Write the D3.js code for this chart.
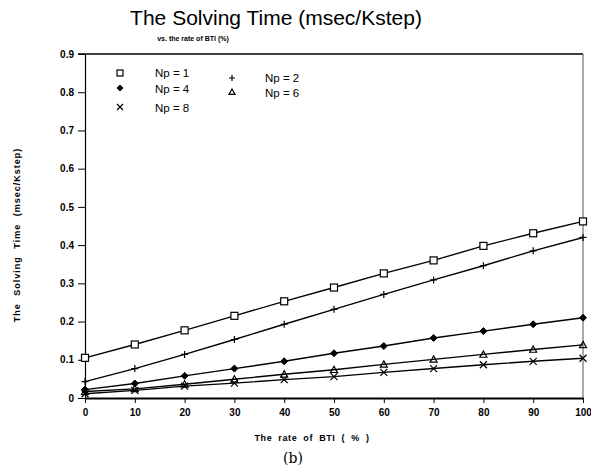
<!DOCTYPE html>
<html>
<head>
<meta charset="utf-8">
<script src="https://cdn.jsdelivr.net/npm/d3@7"></script>
<style>
  body { margin: 0; background: #fff; }
  svg text { font-family: "Liberation Sans", Arial, sans-serif; fill: #000; }
  .tick text { font-weight: bold; font-size: 10px; }
</style>
</head>
<body>
<svg id="chart" width="591" height="472"></svg>
<script>
// rate of BTI (%)
var rates = [0, 10, 20, 30, 40, 50, 60, 70, 80, 90, 100];
var np1 = [0.105, 0.140, 0.177, 0.215, 0.253, 0.289, 0.326, 0.360, 0.398, 0.431, 0.462];
var np2 = [0.043, 0.077, 0.114, 0.153, 0.193, 0.232, 0.271, 0.309, 0.346, 0.385, 0.420];
var np4 = [0.022, 0.038, 0.058, 0.077, 0.096, 0.117, 0.136, 0.157, 0.175, 0.193, 0.210];
var np6 = [0.017, 0.024, 0.036, 0.049, 0.062, 0.074, 0.088, 0.101, 0.114, 0.127, 0.139];
var np8 = [0.011, 0.020, 0.031, 0.039, 0.048, 0.056, 0.067, 0.077, 0.087, 0.096, 0.104];
var yTicks = [0, 0.1, 0.2, 0.3, 0.4, 0.5, 0.6, 0.7, 0.8, 0.9];

var series = [
  {name: "Np = 1", sym: "square", vals: np1},
  {name: "Np = 2", sym: "plus", vals: np2},
  {name: "Np = 4", sym: "diamond", vals: np4},
  {name: "Np = 6", sym: "triangle", vals: np6},
  {name: "Np = 8", sym: "cross", vals: np8}
];

var margin = {top: 54, right: 8, bottom: 74, left: 85},
    width = 583 - margin.left,
    height = 398 - margin.top;

var svg = d3.select("#chart");
var g = svg.append("g")
    .attr("transform", "translate(" + margin.left + "," + margin.top + ")");

var x = d3.scaleLinear().domain([0, 100]).range([0, width]);
var y = d3.scaleLinear().domain([0, 0.9]).range([height, 0]);

// frame
g.append("line").attr("x1", -7).attr("x2", width).attr("y1", 0).attr("y2", 0)
    .attr("stroke", "#000").attr("stroke-width", 1.5);
g.append("line").attr("x1", width).attr("x2", width).attr("y1", 0).attr("y2", height)
    .attr("stroke", "#555").attr("stroke-width", 1);

var yAxis = d3.axisLeft(y).tickValues(yTicks)
    .tickFormat(function(d) { return d === 0 ? "0" : d3.format(".1f")(d); })
    .tickSize(7).tickPadding(4);
var yg = g.append("g").call(yAxis);
yg.select(".domain").attr("stroke-width", 1.2);

var xAxis = d3.axisBottom(x).tickValues(rates).tickSize(5).tickPadding(6).tickSizeOuter(0);
var xg = g.append("g").attr("transform", "translate(0," + height + ")").call(xAxis);
xg.select(".domain").attr("stroke-width", 1.8);

var line = d3.line()
    .x(function(d, i) { return x(rates[i]); })
    .y(function(d) { return y(d); });

function drawSym(sel, sym, s) {
  if (sym === "square") {
    sel.append("rect").attr("x", -s).attr("y", -s).attr("width", 2 * s).attr("height", 2 * s)
      .attr("fill", "#fff").attr("stroke", "#000").attr("stroke-width", 1.2);
  } else if (sym === "plus") {
    sel.append("path").attr("d", "M" + (-s) + ",0H" + s + "M0," + (-s) + "V" + s)
      .attr("stroke", "#000").attr("stroke-width", 1.2);
  } else if (sym === "diamond") {
    sel.append("path").attr("d", "M0," + (-s) + "L" + s + ",0L0," + s + "L" + (-s) + ",0Z")
      .attr("fill", "#000").attr("stroke", "#000");
  } else if (sym === "triangle") {
    sel.append("path").attr("d", "M0," + (-s) + "L" + s + "," + (s * 0.8) + "L" + (-s) + "," + (s * 0.8) + "Z")
      .attr("fill", "none").attr("stroke", "#000").attr("stroke-width", 1.2);
  } else {
    sel.append("path").attr("d", "M" + (-s) + "," + (-s) + "L" + s + "," + s + "M" + s + "," + (-s) + "L" + (-s) + "," + s)
      .attr("stroke", "#000").attr("stroke-width", 1.2);
  }
}

series.forEach(function(s) {
  g.append("path").datum(s.vals).attr("d", line)
    .attr("fill", "none").attr("stroke", "#000").attr("stroke-width", 1.4);
  s.vals.forEach(function(v, i) {
    var m = g.append("g").attr("transform", "translate(" + x(rates[i]) + "," + y(v) + ")");
    drawSym(m, s.sym, 3.5);
  });
});

// legend
var legendPos = [[120, 73, 155, 77], [232, 78, 265, 82], [120, 88, 155, 93], [232, 92, 265, 97], [120, 107, 155, 112]];
series.forEach(function(s, i) {
  var p = legendPos[i];
  var m = svg.append("g").attr("transform", "translate(" + p[0] + "," + p[1] + ")");
  drawSym(m, s.sym, 3);
  svg.append("text").attr("x", p[2]).attr("y", p[3]).attr("font-size", "11.5px").text(s.name);
});

// titles
svg.append("text").attr("x", 276).attr("y", 25).attr("text-anchor", "middle")
  .attr("font-size", "21px").text("The Solving Time (msec/Kstep)");
svg.append("text").attr("x", 193).attr("y", 41).attr("text-anchor", "middle")
  .attr("font-size", "7px").attr("font-weight", "bold").text("vs. the rate of BTI (%)");
svg.append("text").attr("transform", "translate(20,235) rotate(-90)").attr("text-anchor", "middle")
  .attr("font-size", "9px").attr("font-weight", "bold")
  .style("letter-spacing", "1px").style("word-spacing", "4px")
  .text("The Solving Time (msec/Kstep)");
svg.append("text").attr("x", 312).attr("y", 441).attr("text-anchor", "middle")
  .attr("font-size", "9px").attr("font-weight", "bold")
  .style("letter-spacing", "0.6px").style("word-spacing", "3px")
  .text("The rate of BTI ( % )");
svg.append("text").attr("x", 293).attr("y", 463).attr("text-anchor", "middle")
  .style("font-family", "'DejaVu Serif', 'Liberation Serif', serif").attr("font-size", "14px").text("(b)");
</script>
</body>
</html>
